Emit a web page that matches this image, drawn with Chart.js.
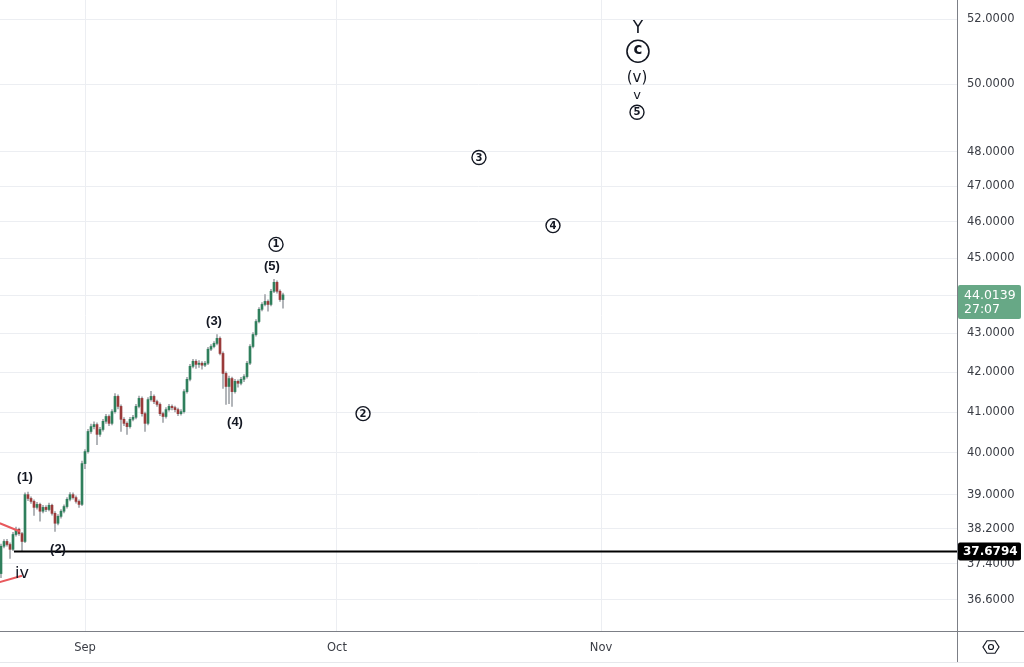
<!DOCTYPE html>
<html><head><meta charset="utf-8">
<script src="https://cdn.jsdelivr.net/npm/chart.js@4.4.1/dist/chart.umd.min.js"></script>
<style>html,body{margin:0;padding:0;background:#fff;overflow:hidden}#wrap{width:1024px;height:667px}</style>
</head><body><div id="wrap"><canvas id="c" width="1024" height="667"></canvas></div>
<script>
// ---- time axis (trading-day units, 0 = 1 Sep) ----
const barStart = -7;
const barStep = 0.25;
const xTickValues = [0, 21, 43];
const xTickLabels = ['Sep', 'Oct', 'Nov'];
// ---- candles ----
const opens = [37.18,37.80,37.91,37.84,37.73,38.07,38.19,38.09,37.91,39.00,38.91,38.84,38.70,38.77,38.61,38.70,38.65,38.75,38.56,38.33,38.49,38.61,38.72,38.89,39.00,38.93,38.84,38.77,39.74,40.03,40.52,40.64,40.69,40.45,40.57,40.77,40.89,40.72,41.01,41.39,41.14,40.82,40.72,40.64,40.82,40.87,41.14,41.34,40.96,40.72,41.31,41.39,41.26,41.19,40.96,40.89,41.06,41.14,41.11,41.06,40.96,41.01,41.51,41.82,42.15,42.28,42.20,42.23,42.18,42.23,42.59,42.66,42.74,42.87,42.48,41.97,41.64,41.84,41.51,41.77,41.72,41.82,41.89,42.23,42.66,42.97,43.31,43.63,43.76,43.84,43.76,44.11,44.35,44.11,43.89];
const highs = [37.85,37.95,37.96,37.88,38.12,38.24,38.22,38.12,39.04,39.06,38.95,38.88,38.82,38.80,38.75,38.74,38.80,38.78,38.60,38.53,38.65,38.76,38.93,39.05,39.04,38.97,38.88,39.80,40.08,40.57,40.70,40.76,40.73,40.62,40.82,40.94,40.93,41.06,41.46,41.43,41.18,40.86,40.76,40.87,40.92,41.19,41.40,41.38,41.00,41.36,41.52,41.43,41.30,41.23,41.00,41.11,41.19,41.18,41.15,41.10,41.06,41.56,41.87,42.20,42.33,42.32,42.30,42.27,42.28,42.64,42.71,42.79,42.97,42.91,42.52,42.01,41.90,41.88,41.82,41.81,41.87,41.94,42.28,42.71,43.02,43.36,43.68,43.81,44.02,43.88,44.16,44.43,44.39,44.15,44.06];
const lows = [37.09,37.76,37.80,37.52,37.70,38.03,38.05,37.68,37.88,38.86,38.79,38.51,38.66,38.38,38.57,38.60,38.62,38.52,38.14,38.29,38.45,38.57,38.68,38.85,38.89,38.80,38.70,38.74,39.62,39.99,40.47,40.58,40.20,40.40,40.53,40.72,40.66,40.68,40.97,41.08,40.52,40.66,40.45,40.60,40.78,40.83,41.10,40.90,40.52,40.68,41.27,41.21,41.14,40.91,40.74,40.85,41.02,41.05,41.00,40.91,40.92,40.97,41.47,41.78,42.11,42.10,42.12,42.08,42.14,42.19,42.55,42.62,42.70,42.44,41.59,41.19,41.21,41.14,41.47,41.62,41.68,41.76,41.85,42.19,42.62,42.93,43.27,43.59,43.72,43.58,43.72,44.07,44.06,43.84,43.66];
const closes = [37.80,37.91,37.84,37.73,38.07,38.19,38.09,37.91,39.00,38.91,38.84,38.70,38.77,38.61,38.70,38.65,38.75,38.56,38.33,38.49,38.61,38.72,38.89,39.00,38.93,38.84,38.77,39.74,40.03,40.52,40.64,40.69,40.45,40.57,40.77,40.89,40.72,41.01,41.39,41.14,40.82,40.72,40.64,40.82,40.87,41.14,41.34,40.96,40.72,41.31,41.39,41.26,41.19,40.96,40.89,41.06,41.14,41.11,41.06,40.96,41.01,41.51,41.82,42.15,42.28,42.20,42.23,42.18,42.23,42.59,42.66,42.74,42.87,42.48,41.97,41.64,41.84,41.51,41.77,41.72,41.82,41.89,42.23,42.66,42.97,43.31,43.63,43.76,43.84,43.76,44.11,44.35,44.11,43.89,44.0139];
// ---- price axis ----
const yTicks = [36.6, 37.4, 38.2, 39, 40, 41, 42, 43, 44, 45, 46, 47, 48, 50, 52];
const keyLevel = 37.6794;
const keyLevelStartDay = -5.92;
const lastPrice = 44.0139;
const countdown = '27:07';
// ---- red triangle lines ----
const upperLineDays = [-7.1, -5.42];
const upperLinePrices = [38.33, 38.14];
const lowerLineDays = [-7.1, -5.25];
const lowerLinePrices = [36.99, 37.13];
// ---- Elliott wave labels ----
const waveTexts  = ['(1)','(2)','iv','(3)','(4)','(5)','1','2','3','4','5','v','(v)','c','Y'];
const waveKinds  = ['t','t','t','t','t','t','o','o','o','o','o','t','t','O','t'];
const waveDays   = [-5.0,-2.25,-5.25,10.75,12.5,15.58,15.92,23.17,32.83,39.0,46.0,46.0,46.0,46.08,46.08];
const wavePrices = [39.41,37.73,37.18,43.31,40.74,44.78,45.38,40.96,47.83,45.90,49.16,49.67,50.20,51.01,51.72];

const UP = '#2f7f5c', DOWN = '#9a3a3a', WICK = '#a3a6ab';
const times = opens.map((_, i) => barStart + i * barStep);
const colors = closes.map((c, i) => c >= opens[i] ? UP : DOWN);
const TXT = '#131722';

const extras = {
  id: 'extras',
  afterDatasetsDraw(chart) {
    const ctx = chart.ctx, xs = chart.scales.x, ys = chart.scales.y;
    ctx.save();
    ctx.textAlign = 'center'; ctx.textBaseline = 'middle'; ctx.fillStyle = TXT; ctx.strokeStyle = TXT;
    waveTexts.forEach((t, i) => {
      const px = xs.getPixelForValue(waveDays[i]);
      const py = ys.getPixelForValue(wavePrices[i]);
      const k = waveKinds[i];
      if (k === 'o') {
        ctx.beginPath(); ctx.lineWidth = 1.4; ctx.arc(px, py, 7, 0, Math.PI * 2); ctx.stroke();
        ctx.font = 'bold 10px "DejaVu Sans"'; ctx.fillText(t, px, py + 0.5);
      } else if (k === 'O') {
        ctx.beginPath(); ctx.lineWidth = 1.6; ctx.arc(px, py, 11, 0, Math.PI * 2); ctx.stroke();
        ctx.font = 'bold 15px "DejaVu Sans"'; ctx.fillText(t, px, py - 1);
      } else if (t === 'Y') {
        ctx.font = '17px "DejaVu Sans"'; ctx.fillText(t, px, py);
      } else if (t === 'iv') {
        ctx.font = '16px "DejaVu Sans"'; ctx.fillText(t, px, py);
      } else if (t === '(v)' ) {
        ctx.font = '15px "DejaVu Sans"'; ctx.fillText(t, px, py);
      } else if (t === 'v') {
        ctx.font = '13px "DejaVu Sans"'; ctx.fillText(t, px, py);
      } else {
        ctx.font = 'bold 13px "Liberation Sans"'; ctx.fillText(t, px, py);
      }
    });
    ctx.restore();
  },
  afterDraw(chart) {
    const ctx = chart.ctx, ys = chart.scales.y, ca = chart.chartArea;
    ctx.save();
    // axis frame extensions
    ctx.strokeStyle = '#7c7f86'; ctx.lineWidth = 1;
    ctx.beginPath(); ctx.moveTo(0, ca.bottom + 0.5); ctx.lineTo(1024, ca.bottom + 0.5); ctx.stroke();
    ctx.beginPath(); ctx.moveTo(ca.right + 0.5, 0); ctx.lineTo(ca.right + 0.5, 662); ctx.stroke();
    ctx.strokeStyle = '#e6e8ec';
    ctx.beginPath(); ctx.moveTo(0, 662.5); ctx.lineTo(1024, 662.5); ctx.stroke();
    // last price box
    const lp = ys.getPixelForValue(lastPrice);
    ctx.fillStyle = '#67a886';
    ctx.beginPath(); ctx.roundRect(ca.right + 1, lp - 10, 63, 34, 2); ctx.fill();
    ctx.fillStyle = '#ffffff'; ctx.font = '12.5px "DejaVu Sans"'; ctx.textBaseline = 'middle'; ctx.textAlign = 'left';
    ctx.fillText(lastPrice.toFixed(4), ca.right + 7, lp + 0.5);
    ctx.fillText(countdown, ca.right + 7, lp + 15);
    // key level box
    const kp = ys.getPixelForValue(keyLevel);
    ctx.fillStyle = '#000000';
    ctx.beginPath(); ctx.roundRect(ca.right + 1, kp - 9, 63, 18, 2); ctx.fill();
    ctx.fillStyle = '#ffffff'; ctx.font = 'bold 12px "DejaVu Sans"';
    ctx.fillText(keyLevel.toFixed(4), ca.right + 6, kp + 0.5);
    // settings hexagon icon
    const cx = 991, cy = 647, r = 8;
    ctx.strokeStyle = TXT; ctx.lineWidth = 1.2;
    ctx.beginPath();
    for (let k = 0; k < 6; k++) {
      const a = Math.PI / 3 * k;
      const hx = cx + r * Math.cos(a), hy = cy + r * 0.9 * Math.sin(a);
      k ? ctx.lineTo(hx, hy) : ctx.moveTo(hx, hy);
    }
    ctx.closePath(); ctx.stroke();
    ctx.beginPath(); ctx.arc(cx, cy, 2.5, 0, Math.PI * 2); ctx.stroke();
    ctx.restore();
  }
};

new Chart(document.getElementById('c'), {
  type: 'bar',
  data: {
    datasets: [
      { type: 'bar', label: 'wicks', data: times.map((t, i) => ({ x: t, y: [lows[i], highs[i]] })),
        backgroundColor: WICK, barThickness: 1, grouped: false, order: 3 },
      { type: 'bar', label: 'bodies', data: times.map((t, i) => ({ x: t, y: [Math.min(opens[i], closes[i]), Math.max(opens[i], closes[i])] })),
        backgroundColor: colors, barThickness: 2, minBarLength: 1, grouped: false, order: 2 },
      { type: 'line', label: 'upper', data: upperLineDays.map((d, i) => ({ x: d, y: upperLinePrices[i] })),
        borderColor: '#e8585c', borderWidth: 2, pointRadius: 0, order: 1 },
      { type: 'line', label: 'lower', data: lowerLineDays.map((d, i) => ({ x: d, y: lowerLinePrices[i] })),
        borderColor: '#e8585c', borderWidth: 2, pointRadius: 0, order: 1 },
      { type: 'line', label: 'level', data: [{ x: keyLevelStartDay, y: keyLevel }, { x: 80, y: keyLevel }],
        borderColor: '#000000', borderWidth: 2, pointRadius: 0, order: 0 }
    ]
  },
  options: {
    responsive: false, animation: false, devicePixelRatio: 1,
    layout: { padding: 0 },
    plugins: { legend: { display: false }, tooltip: { enabled: false } },
    scales: {
      x: {
        type: 'linear', min: -85 / 12, max: 872 / 12, offset: false,
        afterBuildTicks: s => { s.ticks = xTickValues.map(v => ({ value: v })); },
        afterFit: s => { s.height = 36; s.paddingLeft = 0; s.paddingRight = 0; },
        ticks: { callback: v => xTickLabels[xTickValues.indexOf(v)] || '', color: '#3a3d45',
                 font: { family: 'DejaVu Sans', size: 11.5 }, padding: 10, maxRotation: 0, autoSkip: false },
        grid: { color: '#eceef2', drawTicks: false, offset: false },
        border: { display: false }
      },
      y: {
        type: 'logarithmic', position: 'right', min: 35.909, max: 52.618,
        afterBuildTicks: s => { s.ticks = yTicks.map(v => ({ value: v })); },
        afterFit: s => { s.width = 67; s.paddingTop = 0; s.paddingBottom = 0; },
        ticks: { callback: v => Number(v).toFixed(4), color: '#3a3d45',
                 font: { family: 'DejaVu Sans', size: 11.5 }, padding: 10, autoSkip: false },
        grid: { color: '#eceef2', drawTicks: false },
        border: { display: false }
      }
    }
  },
  plugins: [extras]
});
</script></body></html>
